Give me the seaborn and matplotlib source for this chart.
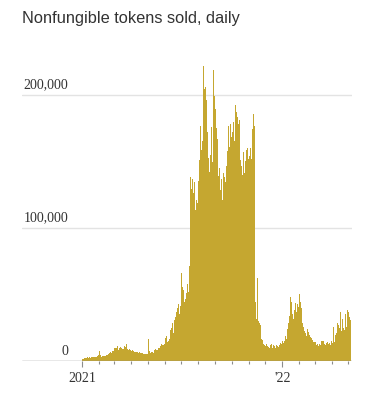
import datetime as dt

import matplotlib.dates as mdates
import matplotlib.pyplot as plt
import matplotlib.transforms as mtransforms
import numpy as np
import pandas as pd
import seaborn as sns

TITLE = "Nonfungible tokens sold, daily"
START = dt.date(2021, 1, 1)
X_MIN = dt.date(2020, 9, 14)
X_MAX = dt.date(2022, 5, 8)
Y_MAX = 230_000
Y_LABELS = [(0, "0"), (100_000, "100,000"), (200_000, "200,000")]
X_LABELS = [(dt.date(2021, 1, 1), "2021"), (dt.date(2022, 1, 1), "'22")]
BAR_COLOR = "#c5a730"

# daily sales, thousands, one list per month
jan21 = [1.2, 1.5, 1.8, 1.4, 2.0, 2.2, 1.9, 2.5, 2.1, 2.4, 2.8, 2.3, 2.6, 3.0, 2.7, 2.2,
         2.9, 3.1, 2.6, 3.3, 2.8, 3.0, 3.4, 2.9, 3.2, 3.6, 3.1, 2.8, 3.5, 3.9, 4.2]
feb21 = [5.0, 7.6, 4.2, 3.5, 3.1, 3.4, 3.8, 3.2, 3.6, 4.1, 3.7, 4.4, 4.0, 4.8, 5.2, 4.6,
         5.5, 5.1, 5.8, 6.2, 5.6, 6.5, 6.0, 6.8, 7.2, 6.6, 7.4, 7.0]
mar21 = [9.5, 13.2, 10.1, 8.6, 9.8, 11.2, 9.0, 8.4, 10.5, 9.7, 11.8, 10.2, 8.8, 9.5, 10.9,
         9.3, 8.7, 10.0, 11.4, 9.6, 10.8, 12.0, 13.0, 10.4, 9.1, 8.5, 9.8, 8.9, 8.2, 7.9, 8.6]
apr21 = [7.8, 7.2, 8.1, 6.9, 7.5, 6.6, 7.0, 6.4, 7.2, 6.8, 6.1, 6.6, 5.9, 6.3, 6.8, 5.7,
         6.2, 5.5, 6.0, 5.3, 5.8, 5.1, 5.6, 4.9, 5.4, 5.0, 4.7, 5.2, 4.8, 5.5]
may21 = [6.0, 16.5, 15.8, 7.2, 6.4, 6.0, 6.8, 5.9, 6.5, 7.1, 6.3, 7.6, 8.4, 7.9, 9.1, 8.6,
         9.8, 8.2, 9.4, 10.1, 8.9, 9.6, 10.8, 11.5, 12.4, 13.1, 12.0, 13.4, 11.8, 14.2, 12.9]
jun21 = [14.0, 17.2, 12.5, 18.8, 14.1, 19.6, 15.4, 21.2, 16.5, 20.8, 23.4, 18.6, 25.0, 21.8,
         28.5, 20.9, 26.3, 31.1, 23.7, 33.4, 27.8, 36.6, 29.2, 39.5, 31.0, 42.6, 35.2, 47.4,
         41.5, 58.8]
jul21 = [66.5, 48.0, 55.8, 42.3, 53.6, 44.2, 59.1, 46.5, 61.4, 50.8, 45.9, 57.7, 63.3, 52.0,
         56.6, 71.2, 138.0, 112.5, 129.6, 117.3, 136.8, 108.4, 125.9, 119.5, 134.2, 113.8,
         128.4, 121.1, 139.7, 118.6, 136.2]
aug21 = [135.0, 128.6, 151.2, 143.8, 176.4, 158.5, 181.3, 165.6, 203.8, 221.5, 178.7, 204.2,
         172.4, 206.1, 164.8, 196.5, 171.9, 188.4, 152.6, 182.2, 141.7, 168.3, 154.8, 139.5,
         176.2, 149.4, 197.7, 218.6, 168.3, 199.1, 158.4]
sep21 = [189.5, 156.2, 175.4, 149.8, 166.6, 138.9, 161.3, 144.7, 158.2, 128.5, 150.1, 136.8,
         146.4, 121.2, 141.6, 129.9, 138.4, 118.7, 134.2, 122.3, 146.8, 131.4, 158.0, 142.2,
         176.4, 161.1, 224.8, 178.3, 201.2, 168.1]
oct21 = [196.4, 172.2, 201.5, 179.7, 198.3, 165.6, 192.1, 171.4, 186.8, 158.5, 183.2, 149.3,
         177.8, 162.6, 181.4, 151.2, 175.5, 146.8, 168.4, 139.7, 171.3, 156.8, 164.5, 141.2,
         166.7, 150.4, 158.9, 136.6, 159.8, 144.3, 152.1]
nov21 = [138.6, 154.3, 142.2, 160.1, 151.5, 187.3, 174.4, 213.2, 185.8, 199.6, 176.4, 58.9,
         44.6, 36.8, 31.2, 62.1, 37.4, 29.8, 33.5, 28.6, 24.9, 27.3, 21.8, 16.4, 14.2, 15.8,
         12.6, 13.9, 11.8, 12.7]
dec21 = [11.4, 10.2, 12.6, 9.8, 11.1, 10.5, 12.3, 9.4, 10.8, 11.7, 10.1, 12.9, 11.3, 9.9,
         10.6, 12.1, 11.5, 10.3, 9.6, 11.8, 12.4, 10.7, 11.2, 9.8, 10.4, 11.9, 12.6, 13.4,
         11.7, 12.8, 14.1]
jan22 = [14.8, 16.9, 13.5, 17.2, 15.3, 18.7, 21.4, 16.8, 30.2, 24.1, 36.4, 28.5, 46.8, 33.7,
         48.2, 37.1, 44.6, 63.2, 35.5, 44.8, 31.9, 46.7, 38.3, 30.4, 43.9, 36.5, 51.2, 42.6,
         53.8, 40.4, 49.1]
feb22 = [50.6, 38.3, 44.2, 33.5, 39.8, 28.6, 34.4, 25.9, 31.7, 22.2, 27.5, 20.8, 25.6, 18.9,
         24.1, 17.3, 21.5, 16.2, 19.4, 15.1, 17.8, 14.6, 17.2, 13.9, 15.7, 14.1, 13.8, 14.5]
mar22 = [13.2, 14.6, 12.4, 11.8, 13.9, 12.7, 11.5, 14.3, 13.1, 61.8, 12.2, 13.6, 14.8, 12.9,
         15.4, 13.7, 14.9, 12.5, 13.8, 11.9, 14.2, 13.3, 12.1, 14.6, 13.5, 12.8, 11.6, 13.9,
         12.4, 14.1, 15.2]
apr22 = [14.6, 13.2, 16.8, 25.9, 15.4, 14.1, 19.8, 15.6, 21.3, 16.5, 28.7, 18.4, 26.9, 17.8,
         24.6, 20.2, 36.8, 22.3, 19.1, 31.9, 21.5, 24.8, 33.1, 23.6, 26.2, 35.7, 25.4, 28.1,
         38.2, 40.1]
may22 = [36.5, 24.8, 33.2, 21.4, 30.6]

months = [jan21, feb21, mar21, apr21, may21, jun21, jul21, aug21, sep21, oct21, nov21,
          dec21, jan22, feb22, mar22, apr22, may22]
sold = np.concatenate([np.array(m) for m in months]) * 1000
dates = pd.date_range(START, periods=len(sold), freq="D")
# bin centre of each day, so binwidth=1 puts one bar per day
df = pd.DataFrame({"day": mdates.date2num(dates) + 0.5, "sold": sold})

sns.set_theme(style="white")
plt.rcParams["font.family"] = ["Liberation Sans", "DejaVu Sans"]
SERIF = ["Liberation Serif", "DejaVu Serif"]

fig = plt.figure(figsize=(3.72, 3.96), dpi=100)
ax = fig.add_axes([22 / 372, 1 - 361 / 396, 330 / 372, 306 / 396])

start_num = mdates.date2num(pd.Timestamp(START))
sns.histplot(data=df, x="day", weights="sold", binwidth=1,
             binrange=(start_num, start_num + len(sold)), color=BAR_COLOR,
             alpha=1, linewidth=0, edgecolor="none", ax=ax)

ax.set_xlim(mdates.date2num(pd.Timestamp(X_MIN)), mdates.date2num(pd.Timestamp(X_MAX)))
ax.set_ylim(0, Y_MAX)
for s in ax.spines.values():
    s.set_visible(False)
ax.set_xlabel("")
ax.set_ylabel("")

# gridlines, with labels sitting just above them
label_tf = mtransforms.blended_transform_factory(ax.transAxes, ax.transData)
shift = mtransforms.ScaledTranslation(0, 2.5 / 72, fig.dpi_scale_trans)
for val, txt in Y_LABELS:
    if val > 0:
        ax.axhline(val, color="#e3e3e3", lw=1, zorder=0)
    ax.text(46 / 330, val, txt, transform=label_tf + shift, ha="right", va="bottom",
            fontsize=10, color="#333333", family=SERIF, zorder=3)
ax.axhline(0, color="#8c8c8c", lw=1, zorder=3)
ax.set_yticks([])

ax.set_xticks([mdates.date2num(pd.Timestamp(d)) for d, _ in X_LABELS])
ax.set_xticklabels([t for _, t in X_LABELS], family=SERIF, fontsize=10, color="#333333")
month_ticks = pd.date_range("2021-01-01", "2022-05-01", freq="MS")
ax.set_xticks(mdates.date2num(month_ticks), minor=True)
ax.tick_params(axis="x", which="major", length=4.5, width=0.8, color="#8c8c8c",
               pad=3.5, bottom=True)
ax.tick_params(axis="x", which="minor", length=2.5, width=0.8, color="#8c8c8c", bottom=True)

fig.text(22 / 372, 1 - 11 / 396, TITLE, ha="left", va="top", fontsize=11.8, color="#333333")

fig.savefig("out.png", dpi=100)
